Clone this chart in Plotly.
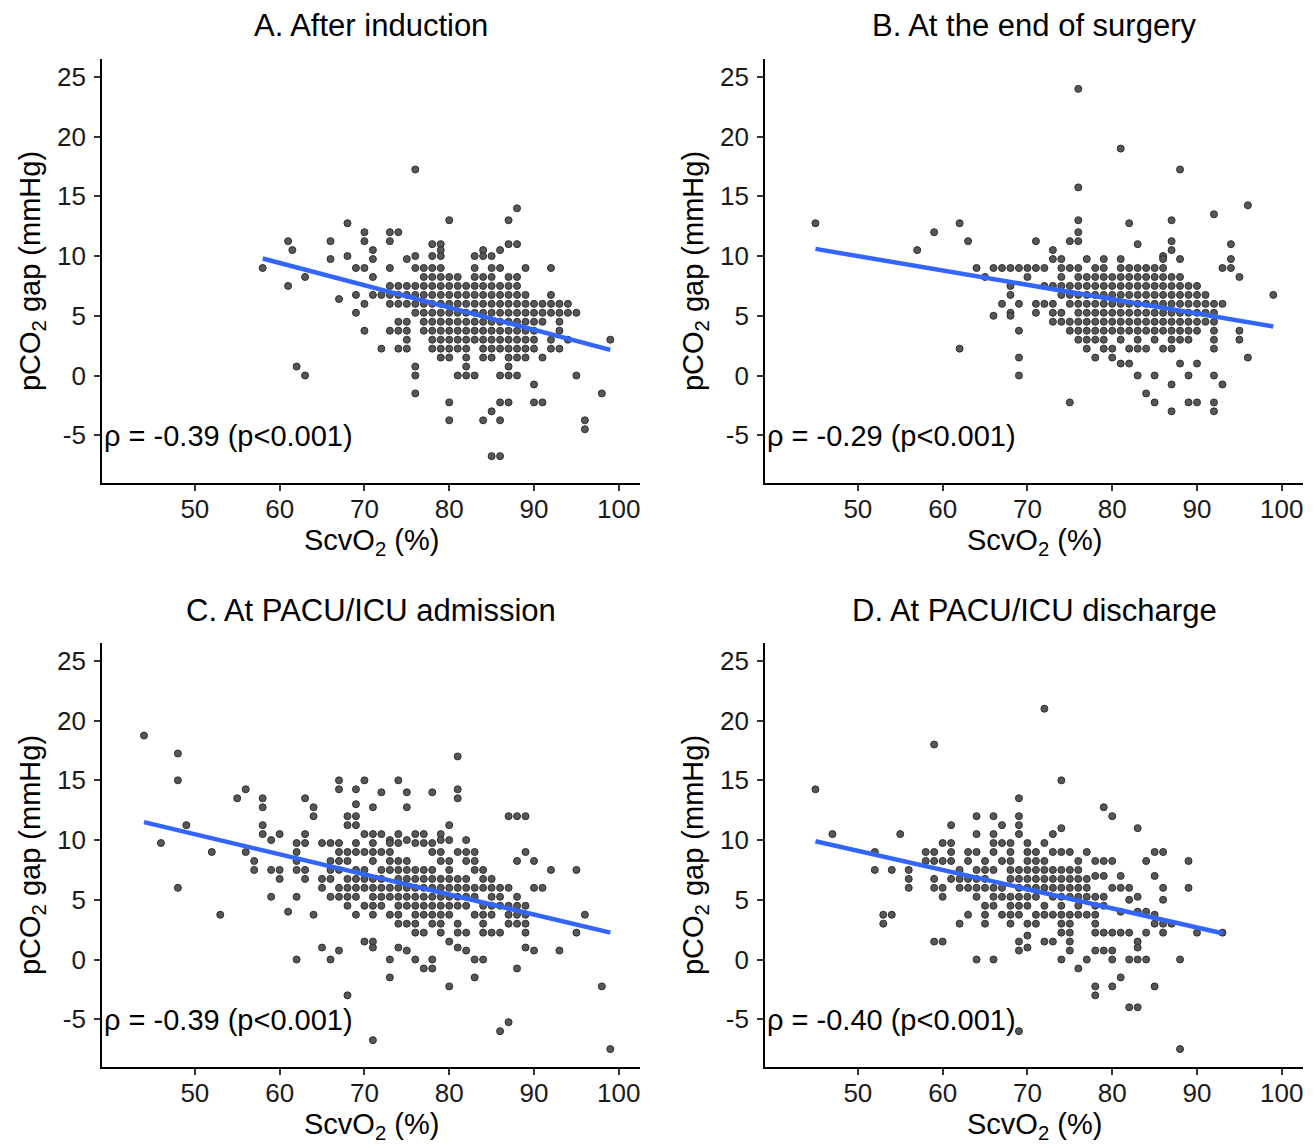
import plotly.graph_objects as go

# ---------------- data ----------------
# each row: (pCO2 gap value, [ScvO2 values of the points at that gap])
a_rows = [
    (17.25, [76]), (14.0, [88]), (13.0, [80, 87]), (12.75, [68]), (12.0, [70, 73, 74]),
    (11.25, [61, 66, 70, 73]), (11.0, [78, 79, 87, 88]), (10.5, [61.5, 71, 79, 84, 86]),
    (10.0, [68, 76, 78, 79, 83, 84, 85]), (9.75, [66, 71, 75]),
    (9.0, [58, 69, 70, 73, 76, 77, 78, 79, 83, 85, 86, 89, 92]),
    (8.25, [63, 71, 77, 78, 79, 80, 81, 83, 84, 85, 87, 88]),
    (7.5, [61, 73, 74, 75, 76, 77, 78, 79, 80, 81, 82, 83, 84, 85, 86, 87, 88]),
    (6.75, [69, 71, 72, 73, 74, 75, 76, 77, 78, 79, 80, 81, 82, 83, 84, 85, 86, 87, 88, 89, 92]),
    (6.4, [67]),
    (6.0, [70, 73, 74, 75, 76, 77, 78, 79, 80, 81, 82, 83, 84, 85, 86, 87, 88, 89, 90, 91, 92, 93, 94]),
    (5.25, [69, 76, 77, 78, 79, 80, 81, 82, 83, 84, 85, 86, 87, 88, 89, 90, 91, 92, 93, 94, 95]),
    (4.5, [74, 75, 77, 78, 79, 80, 81, 82, 83, 84, 85, 86, 87, 88, 89, 90, 91, 93]),
    (3.75, [70, 73, 74, 75, 77, 78, 79, 80, 81, 82, 83, 84, 85, 86, 87, 88, 89, 90, 93]),
    (3.0, [75, 78, 79, 80, 81, 82, 83, 84, 85, 86, 87, 88, 89, 90, 92, 94, 99]),
    (2.25, [72, 74, 75, 78, 79, 80, 81, 82, 84, 85, 86, 87, 88, 89, 90, 92, 93]),
    (1.5, [79, 80, 82, 84, 85, 87, 88, 89, 91]),
    (0.75, [62, 76, 82, 87]),
    (0.0, [63, 76, 81, 82, 83, 86, 87, 88, 95]),
    (-0.75, [90]), (-1.5, [76, 98]), (-2.25, [80, 86, 87, 90, 91]), (-3.0, [85]),
    (-3.75, [80, 84, 86, 96]), (-4.5, [96]), (-6.75, [85, 86]),
]

b_rows = [
    (24.0, [76]), (19.0, [81]), (17.25, [88]), (15.75, [76]), (14.25, [96]), (13.5, [92]),
    (13.0, [76, 87]), (12.75, [45, 62, 82]), (12.0, [59, 76]), (11.25, [63, 71, 75, 76, 87]),
    (11.0, [83, 94]), (10.5, [57, 73, 87]), (10.0, [86]),
    (9.75, [73, 74, 77, 79, 81, 86, 88, 94]),
    (9.0, [64, 66, 67, 68, 69, 70, 71, 72, 74, 75, 76, 78, 79, 81, 82, 83, 84, 85, 86, 93, 94]),
    (8.25, [65, 70, 74, 76, 77, 78, 79, 80, 81, 82, 83, 84, 85, 86, 87, 88, 95]),
    (7.5, [68, 72, 73, 74, 75, 76, 77, 78, 79, 80, 81, 82, 83, 84, 85, 86, 87, 88, 89, 90]),
    (6.75, [68, 74, 75, 76, 77, 78, 79, 80, 81, 82, 83, 84, 85, 86, 87, 88, 89, 90, 91, 99]),
    (6.0, [67, 69, 71, 72, 73, 75, 76, 77, 78, 79, 80, 81, 82, 83, 84, 85, 86, 87, 88, 89, 90, 91, 92, 93]),
    (5.25, [68, 71, 73, 74, 76, 77, 78, 79, 80, 81, 82, 83, 84, 85, 86, 87, 88, 89, 90, 91, 92]),
    (5.0, [66, 68]),
    (4.5, [73, 74, 75, 76, 77, 78, 79, 80, 81, 82, 83, 84, 85, 86, 87, 88, 89, 90, 91, 92]),
    (3.75, [69, 75, 76, 77, 78, 79, 80, 81, 82, 83, 84, 85, 86, 87, 88, 89, 90, 92, 95]),
    (3.0, [76, 77, 78, 79, 81, 83, 85, 87, 88, 89, 92, 95]),
    (2.25, [62, 77, 79, 80, 82, 83, 84, 86, 87, 92]),
    (1.5, [69, 78, 80, 96]), (1.0, [81, 82, 88, 90]), (0.0, [69, 83, 85, 89, 92]),
    (-0.75, [87, 93]), (-1.5, [84]), (-2.25, [75, 85, 89, 90, 92]), (-3.0, [87, 92]),
]

c_rows = [
    (18.75, [44]), (17.25, [48]), (17.0, [81]), (15.0, [48, 67, 70, 74]),
    (14.25, [56, 67, 69, 81]), (14.0, [72, 75, 78]), (13.5, [55, 58, 63, 81]), (13.0, [69]),
    (12.75, [58, 64, 71, 75]), (12.0, [64, 68, 69, 87, 88, 89]), (11.25, [49, 58, 68, 69, 80]),
    (10.5, [58, 60, 63, 70, 71, 72, 74, 76, 77, 79]), (10.0, [59, 73, 75, 79, 80, 82]),
    (9.75, [46, 62, 63, 65, 66, 67, 69, 71, 73, 74, 76, 77, 78]),
    (9.0, [52, 56, 62, 67, 68, 69, 70, 71, 72, 73, 78, 79, 81, 82, 83, 89]),
    (8.25, [57, 62, 66, 67, 68, 71, 73, 74, 75, 79, 80, 82, 83, 88, 90]),
    (7.5, [57, 59, 60, 62, 63, 66, 67, 69, 70, 72, 73, 74, 75, 76, 77, 78, 80, 83, 84, 92, 95]),
    (6.75, [60, 63, 65, 66, 68, 69, 70, 71, 72, 74, 75, 76, 77, 78, 79, 80, 81, 82, 84, 85]),
    (6.0, [48, 65, 67, 68, 69, 70, 71, 72, 73, 74, 75, 76, 77, 78, 79, 80, 81, 82, 83, 84, 85, 86, 87, 90, 91]),
    (5.25, [59, 62, 66, 67, 68, 69, 71, 72, 73, 74, 75, 76, 77, 78, 79, 80, 81, 82, 83, 85, 86, 88]),
    (4.5, [68, 70, 71, 72, 74, 75, 76, 77, 78, 79, 80, 81, 82, 84, 85, 86, 87, 88, 89]),
    (4.0, [61]),
    (3.75, [53, 64, 69, 71, 73, 74, 76, 77, 78, 79, 80, 83, 84, 85, 87, 88, 89, 96]),
    (3.0, [74, 75, 76, 78, 79, 81, 84, 87, 88, 89]),
    (2.25, [76, 77, 79, 81, 82, 84, 85, 86, 89, 95]),
    (1.5, [70, 71, 80]), (1.0, [65, 71, 74, 81, 89]), (0.75, [67, 75, 82, 90, 93]),
    (0.0, [62, 66, 73, 76, 78, 83, 84]), (-0.75, [77, 78, 88]), (-1.5, [73, 83]),
    (-2.25, [80, 98]), (-3.0, [68]), (-5.25, [87]), (-6.0, [86]), (-6.75, [71]), (-7.5, [99]),
]

d_rows = [
    (21.0, [72]), (18.0, [59]), (15.0, [74]), (14.25, [45]), (13.5, [69]), (12.75, [79]),
    (12.0, [64, 66, 69, 80]), (11.25, [61, 67, 69]), (11.0, [74, 83]),
    (10.5, [47, 55, 64, 66, 69, 73]), (9.75, [60, 61, 66, 67, 68, 70, 72]),
    (9.0, [52, 58, 59, 61, 63, 64, 66, 68, 70, 71, 73, 74, 75, 77, 85, 86]),
    (8.25, [58, 59, 60, 61, 63, 65, 67, 68, 70, 71, 72, 76, 78, 79, 80, 84, 89]),
    (7.5, [52, 54, 56, 62, 64, 65, 66, 68, 69, 70, 71, 72, 73, 74, 75, 76]),
    (7.0, [78, 79, 81, 85]),
    (6.75, [56, 59, 61, 62, 63, 64, 65, 68, 69, 70, 71, 72, 73, 74, 75, 76, 77]),
    (6.0, [56, 59, 60, 62, 63, 64, 65, 66, 67, 69, 70, 71, 72, 73, 74, 75, 76, 77, 80, 81, 82, 86, 89]),
    (5.25, [60, 64, 66, 67, 68, 69, 70, 71, 73, 74, 75, 76, 77, 78, 79, 83]),
    (5.0, [82, 86]),
    (4.5, [65, 66, 68, 69, 70, 72, 74, 76, 78, 79]),
    (4.0, [81, 83, 84]),
    (3.75, [53, 54, 63, 65, 67, 68, 69, 71, 72, 73, 74, 75, 76, 77, 78, 85]),
    (3.0, [53, 62, 65, 68, 70, 71, 74, 75, 78, 85, 86, 87]),
    (2.25, [74, 75, 78, 79, 80, 81, 82, 84, 86, 90, 93]),
    (2.0, [70]), (1.5, [59, 60, 69, 72, 73, 75, 83]), (1.0, [70, 83]),
    (0.75, [69, 75, 78, 79, 80]), (0.0, [64, 66, 74, 77, 80, 82, 83, 84, 88]),
    (-0.75, [76]), (-1.5, [81]), (-2.25, [78, 80, 85]), (-3.0, [78]), (-4.0, [82, 83]),
    (-6.0, [69]), (-7.5, [88]),
]

# regression line end points
a_fit_x, a_fit_y = [58, 99], [9.8, 2.15]
b_fit_x, b_fit_y = [45, 99], [10.6, 4.1]
c_fit_x, c_fit_y = [44, 99], [11.5, 2.25]
d_fit_x, d_fit_y = [45, 93], [9.9, 2.2]

panel_titles = ["A. After induction", "B. At the end of surgery",
                "C. At PACU/ICU admission", "D. At PACU/ICU discharge"]
stat_labels = ["ρ = -0.39 (p<0.001)", "ρ = -0.29 (p<0.001)",
               "ρ = -0.39 (p<0.001)", "ρ = -0.40 (p<0.001)"]
x_title = "ScvO<sub>2</sub> (%)"
y_title = "pCO<sub>2</sub> gap (mmHg)"
x_ticks = [50, 60, 70, 80, 90, 100]
x_tick_labels = ["50", "60", "70", "80", "90", "100"]
y_ticks = [-5, 0, 5, 10, 15, 20, 25]
y_tick_labels = ["-5", "0", "5", "10", "15", "20", "25"]
x_range = [39.05, 102.5]
y_range = [-9.0, 26.5]

# ---------------- figure ----------------
W, H = 1316, 1144
FONT = "Liberation Sans, Arial, sans-serif"

def flatten(rows):
    xs, ys = [], []
    for yv, xlist in rows:
        for xv in xlist:
            xs.append(xv)
            ys.append(yv)
    return xs, ys

panels = [
    (a_rows, a_fit_x, a_fit_y),
    (b_rows, b_fit_x, b_fit_y),
    (c_rows, c_fit_x, c_fit_y),
    (d_rows, d_fit_x, d_fit_y),
]

# pixel boxes of the four plot areas (left, right, top, bottom)
boxes = [(102, 640, 59, 483), (765, 1303, 59, 483),
         (102, 640, 643, 1067), (765, 1303, 643, 1067)]

fig = go.Figure()
layout = dict(
    width=W, height=H, margin=dict(l=0, r=0, t=0, b=0),
    paper_bgcolor="white", plot_bgcolor="white", showlegend=False,
    font=dict(family=FONT, color="black"),
)
annotations = []

for i, ((rows, fx, fy), (l, r, t, b)) in enumerate(zip(panels, boxes)):
    n = "" if i == 0 else str(i + 1)
    xs, ys = flatten(rows)
    fig.add_trace(go.Scatter(
        x=xs, y=ys, mode="markers", xaxis="x" + n, yaxis="y" + n,
        marker=dict(size=7, color="#575757", line=dict(color="#2e2e2e", width=1)),
        hoverinfo="x+y",
    ))
    fig.add_trace(go.Scatter(
        x=fx, y=fy, mode="lines", xaxis="x" + n, yaxis="y" + n,
        line=dict(color="#3366FF", width=4.5),
    ))
    common = dict(showline=True, linecolor="black", linewidth=1.8, mirror=False,
                  ticks="outside", ticklen=6, tickwidth=1.6, tickcolor="#333333",
                  showgrid=False, zeroline=False, automargin=False,
                  tickfont=dict(size=26, color="#1a1a1a", family=FONT))
    layout["xaxis" + n] = dict(
        common, domain=[l / W, r / W], range=x_range,
        tickvals=x_ticks, ticktext=x_tick_labels, anchor="y" + n,
        ticklabelstandoff=-4,
    )
    layout["yaxis" + n] = dict(
        common, domain=[1 - b / H, 1 - t / H], range=y_range,
        tickvals=y_ticks, ticktext=y_tick_labels, anchor="x" + n,
        ticklabelstandoff=3,
        title=dict(text=y_title, font=dict(size=29, family=FONT), standoff=8),
    )
    # panel title
    annotations.append(dict(
        xref="paper", yref="paper", x=(l + r) / 2 / W, y=1 - (t - 33) / H,
        text=panel_titles[i], showarrow=False, xanchor="center", yanchor="middle",
        font=dict(size=31, family=FONT, color="black"),
    ))
    # x axis title
    annotations.append(dict(
        xref="paper", yref="paper", x=(l + r) / 2 / W, y=1 - (b + 59) / H,
        text=x_title, showarrow=False, xanchor="center", yanchor="middle",
        font=dict(size=29, family=FONT, color="black"),
    ))
    # correlation label
    annotations.append(dict(
        xref="x" + n, yref="y" + n, x=x_range[0], y=-5.1,
        text=stat_labels[i], showarrow=False, xanchor="left", yanchor="middle",
        font=dict(size=29, family=FONT, color="black"),
    ))

layout["annotations"] = annotations
fig.update_layout(**layout)
fig.write_html("out.html", config={"displayModeBar": False},
               post_script="document.body.style.margin='0';")
